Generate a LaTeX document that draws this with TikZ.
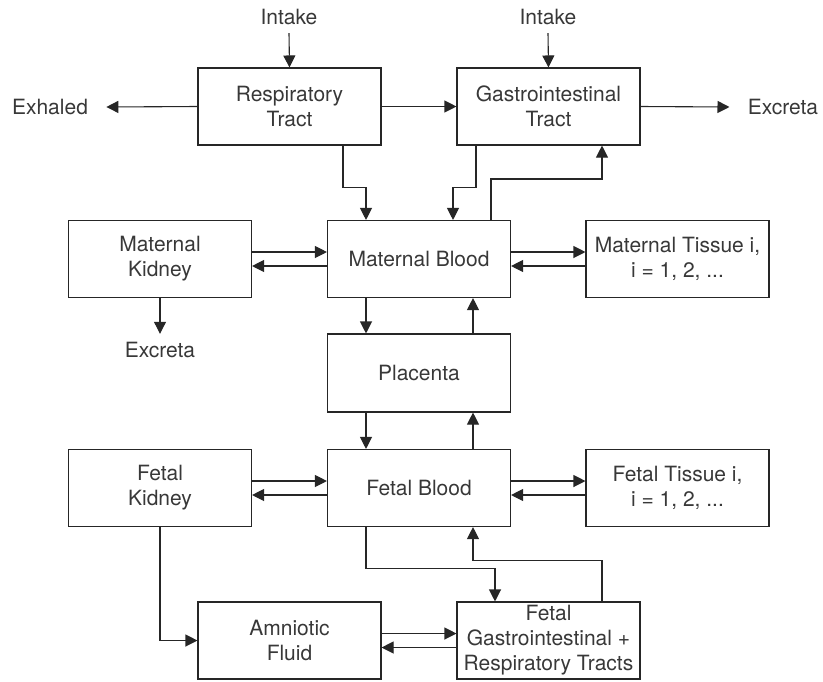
\documentclass[tikz,border=0pt]{standalone}
\usepackage{fontspec}
\setmainfont{TeX Gyre Heros}
\usepackage{tikz}
\usetikzlibrary{arrows.meta,positioning,calc}

\begin{document}
\begin{tikzpicture}[x=0.5pt, y=-0.5pt,
  box/.style={rectangle, draw=black!85, line width=0.55pt, minimum width=91.5pt,
              minimum height=38.5pt, inner sep=0pt, align=center,
              font=\fontsize{10.5}{12.5}\selectfont, text=black!78},
  lbl/.style={inner sep=4pt, font=\fontsize{10.5}{12.5}\selectfont, text=black!78},
  arr/.style={line width=0.55pt, draw=black!85, -{Triangle[length=6pt, width=6pt]}}
]
\useasboundingbox (0,0) rectangle (823,681);

% top row
\node[box] (rt) at (289.5,106.5) {Respiratory\\Tract};
\node[box] (gi) at (548.5,106.5) {Gastrointestinal\\Tract};
\node[lbl] (in1) at (289,17) {Intake};
\node[lbl] (in2) at (548,17) {Intake};
\node[lbl, inner sep=9pt] (exh) at (50,107) {Exhaled};
\node[lbl, inner sep=9pt] (exc1) at (783,107) {Excreta};

% maternal row
\node[box] (mk) at (160,259) {Maternal\\Kidney};
\node[box] (mb) at (419,259) {Maternal Blood};
\node[box] (mt) at (677.5,259) {Maternal Tissue i,\\i = 1, 2, ...};
\node[lbl] (exc2) at (160,350) {Excreta};

\node[box, minimum height=39pt] (pl) at (419,373) {Placenta};

% fetal row
\node[box] (fk) at (160,488) {Fetal\\Kidney};
\node[box] (fb) at (419,488) {Fetal Blood};
\node[box] (ft) at (677.5,488) {Fetal Tissue i,\\i = 1, 2, ...};

% bottom row
\node[box] (af) at (289.5,640.5) {Amniotic\\Fluid};
\node[box] (fg) at (548.5,640.5) {Fetal\\Gastrointestinal +\\Respiratory Tracts};

% intake and losses
\draw[arr] (in1.south) -- (rt.north);
\draw[arr] (in2.south) -- (gi.north);
\draw[arr] (rt.west) -- (exh.east);
\draw[arr] (rt.east) -- (gi.west);
\draw[arr] (gi.east) -- (exc1.west);

% to and from maternal blood
\draw[arr] ([xshift=26.75pt]rt.south) -- ++(0,42) -| ([xshift=-26.5pt]mb.north);
\draw[arr] ([xshift=-36.25pt]gi.south) -- ++(0,42) -| ([xshift=17pt]mb.north);
\draw[arr] ([xshift=36pt]mb.north) -- ++(0,-41) -| ([xshift=26.75pt]gi.south);
\draw[arr] ([yshift=3.5pt]mk.east) -- ([yshift=3.5pt]mb.west);
\draw[arr] ([yshift=-3.5pt]mb.west) -- ([yshift=-3.5pt]mk.east);
\draw[arr] ([yshift=3.5pt]mb.east) -- ([yshift=3.5pt]mt.west);
\draw[arr] ([yshift=-3.5pt]mt.west) -- ([yshift=-3.5pt]mb.east);
\draw[arr] (mk.south) -- (exc2.north);

% placenta
\draw[arr] ([xshift=-26.5pt]mb.south) -- ([xshift=-26.5pt]pl.north);
\draw[arr] ([xshift=27pt]pl.north) -- ([xshift=27pt]mb.south);
\draw[arr] ([xshift=-26.5pt]pl.south) -- ([xshift=-26.5pt]fb.north);
\draw[arr] ([xshift=27pt]fb.north) -- ([xshift=27pt]pl.south);

% fetal exchanges
\draw[arr] ([yshift=3.5pt]fk.east) -- ([yshift=3.5pt]fb.west);
\draw[arr] ([yshift=-3.5pt]fb.west) -- ([yshift=-3.5pt]fk.east);
\draw[arr] ([yshift=3.5pt]fb.east) -- ([yshift=3.5pt]ft.west);
\draw[arr] ([yshift=-3.5pt]ft.west) -- ([yshift=-3.5pt]fb.east);
\draw[arr] (fk.south) |- (af.west);
\draw[arr] ([xshift=-26.5pt]fb.south) -- ++(0,41) -| ([xshift=-26.75pt]fg.north);
\draw[arr] ([xshift=26.75pt]fg.north) -- ++(0,-41) -| ([xshift=27pt]fb.south);
\draw[arr] ([yshift=3.5pt]af.east) -- ([yshift=3.5pt]fg.west);
\draw[arr] ([yshift=-3.5pt]fg.west) -- ([yshift=-3.5pt]af.east);
\end{tikzpicture}
\end{document}
